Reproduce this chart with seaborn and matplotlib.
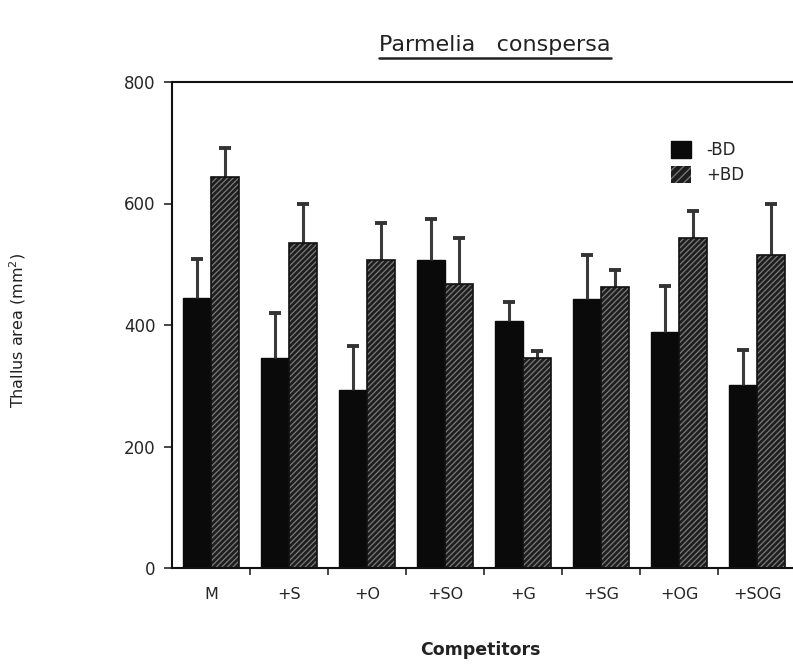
import matplotlib
matplotlib.use("Agg")
import matplotlib.pyplot as plt
import seaborn as sns
import pandas as pd
import numpy as np
from matplotlib.patches import Patch, Rectangle

categories = ["M", "+S", "+O", "+SO", "+G", "+SG", "+OG", "+SOG"]
minus_bd = [445, 345, 293, 507, 407, 442, 389, 301]
minus_bd_err = [63, 74, 72, 68, 31, 74, 76, 58]
plus_bd = [643, 535, 507, 467, 345, 463, 544, 515]
plus_bd_err = [48, 65, 61, 76, 13, 28, 44, 84]
series = ["-BD", "+BD"]

df = pd.DataFrame({
    "Competitors": categories * 2,
    "BD": [series[0]] * len(categories) + [series[1]] * len(categories),
    "area": minus_bd + plus_bd,
})

sns.set_style("white")
plt.rcParams["font.family"] = ["DejaVu Sans"]
plt.rcParams["hatch.linewidth"] = 0.9

fig = plt.figure(figsize=(7.93, 6.65), dpi=100)
ax = fig.add_axes([172 / 793, 1 - 568 / 665, (793 - 172) / 793, (568 - 82) / 665])

sns.barplot(data=df, x="Competitors", y="area", hue="BD", order=categories,
            hue_order=series, palette=["#0a0a0a", "#1e1e1e"], width=0.72,
            gap=0, errorbar=None, legend=False, ax=ax, saturation=1)

n = len(categories)
patches = ax.patches[:2 * n]
errs = minus_bd_err + plus_bd_err
for i, p in enumerate(patches):
    w = p.get_width()
    x = p.get_x() + w / 2
    h = p.get_height()
    if i >= n:
        p.set_hatch("//////")
        p.set_edgecolor("#7a7a7a")
        p.set_linewidth(0)
        ax.add_patch(Rectangle((p.get_x(), 0), w, h, fill=False,
                               edgecolor="#111111", linewidth=1.2, zorder=p.get_zorder() + 0.1))
    else:
        p.set_edgecolor("#0a0a0a")
    ax.vlines(x, h, h + errs[i], color="#3a3a3a", linewidth=2.2, zorder=1)
    ax.hlines(h + errs[i], x - 0.075, x + 0.075, color="#333333", linewidth=2.8, zorder=1)

ax.set_ylim(0, 800)
ax.set_xlim(-0.5, 7.46)
ax.set_yticks([0, 200, 400, 600, 800])
ax.tick_params(axis="y", direction="out", length=6, width=1.2, labelsize=12, pad=6, left=True)
ax.set_xticks(range(n))
ax.set_xticklabels(categories)
ax.tick_params(axis="x", which="major", length=0, labelsize=11.5, pad=14)
ax.set_xticks(np.arange(n - 1) + 0.5, minor=True)
ax.tick_params(axis="x", which="minor", direction="out", length=5, width=1.2, bottom=True)

for s in ["left", "bottom", "top"]:
    ax.spines[s].set_visible(True)
    ax.spines[s].set_linewidth(1.5)
    ax.spines[s].set_color("#111111")
ax.spines["right"].set_visible(False)

ax.set_xlabel("")
ax.set_ylabel("")
fig.text(480 / 793, 1 - 650 / 665, "Competitors", ha="center", va="center",
         fontsize=12.5, fontweight="bold", color="#222222")
fig.text(18 / 793, 1 - 330 / 665, "Thallus area (mm$^2$)", rotation=90, ha="center",
         va="center", fontsize=11.5, color="#222222")

t = fig.text(495 / 793, 1 - 45 / 665, "Parmelia   conspersa", ha="center", va="center",
             fontsize=16, color="#222222")
fig.canvas.draw()
bb = t.get_window_extent()
fig.add_artist(plt.Line2D([bb.x0 / fig.bbox.width, bb.x1 / fig.bbox.width],
                          [(bb.y0 - 3) / fig.bbox.height] * 2, color="#222222", linewidth=1.8))

handles = [Patch(facecolor="#0a0a0a", edgecolor="#0a0a0a"),
           Patch(facecolor="#1e1e1e", edgecolor="#7a7a7a", hatch="////", linewidth=0)]
ax.legend(handles, series, loc="upper left", bbox_to_anchor=(0.78, 0.91), frameon=False,
          fontsize=12, handlelength=1.2, handleheight=1.2, handletextpad=0.9, labelspacing=0.4)

fig.savefig("out.png", dpi=100)
